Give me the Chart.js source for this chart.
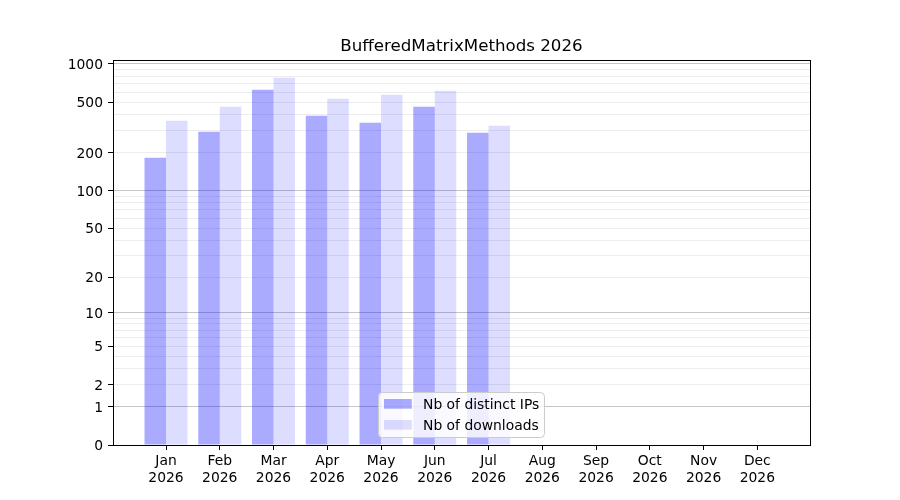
<!DOCTYPE html>
<html>
<head>
<meta charset="utf-8">
<script src="https://cdn.jsdelivr.net/npm/chart.js@4/dist/chart.umd.min.js"></script>
<style>
  html, body { margin: 0; padding: 0; background: #ffffff; }
  #wrap { width: 900px; height: 500px; position: relative; }
</style>
</head>
<body>
<div id="wrap"><canvas id="c" width="900" height="500"></canvas></div>
<script>
// ---- data ----
const months = ["Jan", "Feb", "Mar", "Apr", "May", "Jun", "Jul", "Aug", "Sep", "Oct", "Nov", "Dec"];
const year = "2026";
const distinctIPs = [182, 292, 627, 391, 344, 460, 286];
const downloads = [356, 460, 779, 532, 572, 615, 325];
const yTickLabels = [0, 1, 2, 5, 10, 20, 50, 100, 200, 500, 1000];
const yMajorGrid = [1, 10, 100, 1000];
const yMinorGrid = [2, 3, 4, 5, 6, 7, 8, 9, 20, 30, 40, 50, 60, 70, 80, 90, 200, 300, 400, 500, 600, 700, 800, 900];
const titleText = "BufferedMatrixMethods 2026";
const seriesNames = ["Nb of distinct IPs", "Nb of downloads"];
const seriesColors = ["rgba(0,0,255,0.333)", "rgba(0,0,255,0.133)"];

// log(x+1) transform
const tf = v => Math.log10(v + 1);
const inv = t => Math.round(Math.pow(10, t) - 1);

const allYTicks = Array.from(new Set([0].concat(yMajorGrid, yMinorGrid, yTickLabels))).sort((a, b) => a - b);

Chart.defaults.font.family = "'DejaVu Sans', sans-serif";
Chart.defaults.color = "#000000";

const FS = 13.89;

const framePlugin = {
  id: 'frame',
  afterDraw(chart) {
    const ctx = chart.ctx;
    const a = chart.chartArea;
    ctx.save();
    // frame
    ctx.strokeStyle = '#000000';
    ctx.lineWidth = 1;
    ctx.strokeRect(Math.round(a.left) + 0.5, Math.round(a.top) + 0.5,
                   Math.round(a.right) - Math.round(a.left), Math.round(a.bottom) - Math.round(a.top));
    // title
    ctx.fillStyle = '#000000';
    ctx.font = "16.67px 'DejaVu Sans', sans-serif";
    ctx.textAlign = 'center';
    ctx.textBaseline = 'alphabetic';
    ctx.fillText(titleText, (a.left + a.right) / 2, 51);
    // legend
    const bx = 378.5, by = 392.5, bw = 166, bh = 45, r = 4;
    ctx.beginPath();
    ctx.moveTo(bx + r, by);
    ctx.lineTo(bx + bw - r, by);
    ctx.quadraticCurveTo(bx + bw, by, bx + bw, by + r);
    ctx.lineTo(bx + bw, by + bh - r);
    ctx.quadraticCurveTo(bx + bw, by + bh, bx + bw - r, by + bh);
    ctx.lineTo(bx + r, by + bh);
    ctx.quadraticCurveTo(bx, by + bh, bx, by + bh - r);
    ctx.lineTo(bx, by + r);
    ctx.quadraticCurveTo(bx, by, bx + r, by);
    ctx.closePath();
    ctx.fillStyle = 'rgba(255,255,255,0.8)';
    ctx.fill();
    ctx.strokeStyle = '#cccccc';
    ctx.stroke();
    ctx.font = FS + "px 'DejaVu Sans', sans-serif";
    ctx.textAlign = 'left';
    ctx.textBaseline = 'middle';
    const rows = [404, 425];
    for (let i = 0; i < seriesNames.length; i++) {
      ctx.fillStyle = seriesColors[i];
      ctx.fillRect(384, rows[i] - 5, 27.8, 9.7);
      ctx.fillStyle = '#000000';
      ctx.fillText(seriesNames[i], 423, rows[i] + 1);
    }
    ctx.restore();
  }
};

const mk = arr => arr.map((v, i) => ({ x: i, y: tf(v) }));

new Chart(document.getElementById('c'), {
  type: 'bar',
  data: {
    datasets: [
      { label: seriesNames[0], data: mk(distinctIPs), backgroundColor: seriesColors[0], borderWidth: 0,
        categoryPercentage: 0.8, barPercentage: 1.0 },
      { label: seriesNames[1], data: mk(downloads), backgroundColor: seriesColors[1], borderWidth: 0,
        categoryPercentage: 0.8, barPercentage: 1.0 }
    ]
  },
  options: {
    responsive: false,
    animation: false,
    events: [],
    devicePixelRatio: 1,
    layout: { padding: { left: 0, right: 90, top: 60, bottom: 0 } },
    plugins: {
      legend: { display: false },
      title: { display: false },
      tooltip: { enabled: false }
    },
    scales: {
      x: {
        type: 'linear',
        min: -0.986,
        max: 11.98,
        offset: false,
        afterFit(scale) { scale.height = 55; },
        afterBuildTicks(scale) { scale.ticks = months.map((m, i) => ({ value: i })); },
        grid: { offset: false, drawOnChartArea: false, drawTicks: true, tickLength: 5, tickColor: '#000000', tickWidth: 1 },
        border: { display: true, color: '#000000', width: 1 },
        ticks: {
          autoSkip: false, maxRotation: 0, minRotation: 0, padding: 3,
          font: { size: FS, lineHeight: 1.2 }, color: '#000000',
          callback: (value) => {
            const i = Math.round(value);
            return (i >= 0 && i < months.length) ? [months[i], year] : '';
          }
        }
      },
      y: {
        type: 'linear',
        min: 0,
        max: 3.0315,
        afterFit(scale) { scale.width = 113; },
        afterBuildTicks(scale) { scale.ticks = allYTicks.map(v => ({ value: tf(v) })); },
        grid: {
          drawTicks: true,
          tickLength: 5,
          lineWidth: 1,
          color: (ctx) => {
            const v = inv(ctx.tick ? ctx.tick.value : 0);
            if (v === 0) return 'rgba(0,0,0,0)';
            return yMajorGrid.includes(v) ? '#c6c6c6' : '#ededed';
          },
          tickColor: (ctx) => {
            const v = inv(ctx.tick ? ctx.tick.value : 0);
            return yTickLabels.includes(v) ? '#000000' : 'rgba(0,0,0,0)';
          }
        },
        border: { display: true, color: '#000000', width: 1 },
        ticks: {
          autoSkip: false, padding: 5, labelOffset: 1.5,
          font: { size: FS }, color: '#000000',
          callback: (value) => {
            const v = inv(value);
            return yTickLabels.includes(v) ? String(v) : '';
          }
        }
      }
    }
  },
  plugins: [framePlugin]
});
</script>
</body>
</html>
